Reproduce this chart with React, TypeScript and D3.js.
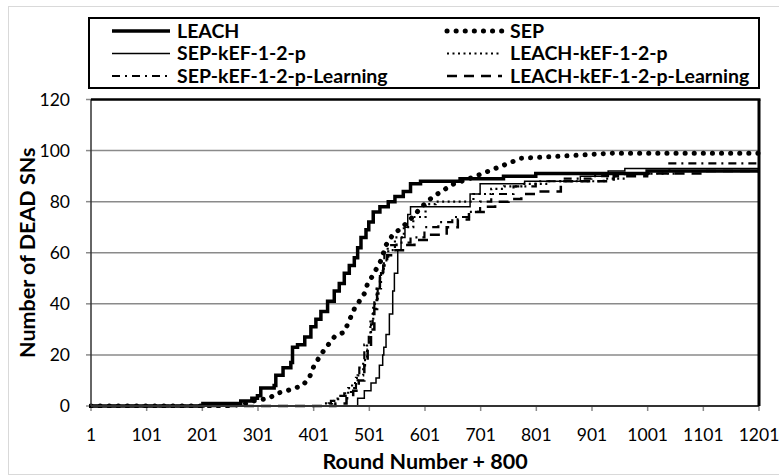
import React from "react";
import * as d3 from "d3";

const xTicks = [1, 101, 201, 301, 401, 501, 601, 701, 801, 901, 1001, 1101, 1201];
const yTicks = [0, 20, 40, 60, 80, 100, 120];

const leach: [number, number][] = [
  [1, 0], [200, 0], [202, 1], [265, 1], [270, 2], [290, 3], [300, 4], [306, 7], [330, 8], [333, 12],
  [346, 15], [360, 17], [363, 23], [372, 24], [385, 27], [396, 31], [405, 34], [414, 37], [426, 41],
  [438, 45], [447, 48], [456, 52], [465, 55], [474, 58], [480, 62], [486, 66], [495, 69], [500, 72],
  [508, 76], [520, 78], [535, 80], [547, 82], [562, 84], [575, 87], [593, 88], [664, 89], [742, 90],
  [800, 91], [1000, 92], [1201, 92],
];

const sep: [number, number][] = [
  [1, 0], [250, 0], [280, 1], [294, 2], [320, 3], [336, 5], [353, 6], [381, 8], [393, 11], [402, 16],
  [420, 22], [438, 27], [456, 29], [462, 32], [474, 38], [492, 44], [498, 48], [507, 51], [522, 57],
  [531, 63], [543, 67], [560, 70], [579, 74], [595, 78], [610, 81], [630, 84], [653, 87], [680, 89],
  [704, 91], [739, 94], [774, 97], [860, 98], [938, 99], [1201, 99],
];

const sepKef: [number, number][] = [
  [1, 0], [470, 0], [480, 3], [492, 6], [504, 9], [513, 11], [519, 16], [525, 20], [527, 23], [531, 28],
  [537, 36], [543, 45], [546, 52], [552, 61], [558, 66], [565, 70], [570, 75], [575, 78], [680, 78],
  [682, 83], [700, 87], [780, 88], [880, 90], [930, 92], [960, 93], [1201, 93],
];

const leachKef: [number, number][] = [
  [1, 0], [415, 0], [418, 1], [434, 2], [445, 4], [463, 7], [470, 9], [480, 12], [490, 18], [497, 25],
  [503, 33], [508, 40], [514, 46], [520, 52], [527, 57], [535, 61], [547, 66], [563, 70], [580, 74],
  [602, 79], [620, 80], [665, 80], [688, 83], [720, 85], [743, 86], [774, 87], [821, 88], [860, 88],
  [922, 89], [960, 91], [1050, 92], [1201, 92],
];

const sepKefLearning: [number, number][] = [
  [1, 0], [423, 0], [428, 1], [432, 2], [444, 4], [456, 5], [468, 7], [477, 11], [483, 15], [492, 24],
  [500, 28], [504, 32], [507, 36], [510, 42], [516, 46], [522, 52], [525, 55], [528, 61], [534, 63],
  [550, 64], [575, 66], [600, 70], [625, 72], [650, 74], [680, 76], [700, 80], [720, 83], [760, 86],
  [800, 88], [850, 89], [900, 90], [950, 91], [1000, 92], [1040, 95], [1201, 95],
];

const leachKefLearning: [number, number][] = [
  [1, 0], [430, 0], [440, 1], [460, 3], [472, 6], [482, 10], [492, 16], [498, 22], [504, 30], [510, 38],
  [515, 44], [520, 50], [526, 55], [533, 59], [545, 61], [564, 63], [582, 65], [612, 67], [636, 67],
  [640, 70], [660, 73], [680, 76], [710, 78], [727, 80], [751, 81], [774, 83], [806, 84], [845, 88],
  [900, 88], [940, 90], [1000, 91], [1100, 92], [1201, 92],
];

type Style = { width: number; dash?: string; cap?: "round" | "butt" | "square"; step: boolean };

const series: { name: string; data: [number, number][]; style: Style; col: number; row: number }[] = [
  { name: "LEACH", data: leach, style: { width: 3.5, step: true }, col: 0, row: 0 },
  { name: "SEP", data: sep, style: { width: 5, dash: "0.1 9", cap: "round", step: false }, col: 1, row: 0 },
  { name: "SEP-kEF-1-2-p", data: sepKef, style: { width: 1.5, step: true }, col: 0, row: 1 },
  { name: "LEACH-kEF-1-2-p", data: leachKef, style: { width: 2.2, dash: "2 3.5", step: true }, col: 1, row: 1 },
  { name: "SEP-kEF-1-2-p-Learning", data: sepKefLearning, style: { width: 2.2, dash: "8 5 2 5", step: true }, col: 0, row: 2 },
  { name: "LEACH-kEF-1-2-p-Learning", data: leachKefLearning, style: { width: 2.5, dash: "10 7", step: true }, col: 1, row: 2 },
];

const W = 779;
const H = 476;
const L = 91, R = 759, T = 99.5, B = 406;
const FONT = "Lato, 'Open Sans', sans-serif";

export default function App() {
  const x = d3.scaleLinear().domain([1, 1201]).range([L, R]);
  const y = d3.scaleLinear().domain([0, 120]).range([B, T]);

  const mkLine = (step: boolean) =>
    d3.line<[number, number]>()
      .x((d) => x(d[0]))
      .y((d) => y(d[1]))
      .curve(step ? d3.curveStepAfter : d3.curveLinear);

  const legendRowY = [31, 53.5, 76];
  const legendSample = [[112, 170], [447, 502]];
  const legendText = [177, 510];

  return (
    <svg width={W} height={H} style={{ position: "absolute", left: 0, top: 0, background: "#fff" }}>
      <rect x={8.5} y={6.5} width={780} height={468} fill="#fff" stroke="#d9d9d9" strokeWidth={1} />
      <defs>
        <clipPath id="plotclip">
          <rect x={L - 2} y={T - 2} width={R - L + 4} height={B - T + 4} />
        </clipPath>
      </defs>

      {/* gridlines */}
      {yTicks.filter((t) => t > 0 && t < 120).map((t) => (
        <line key={"g" + t} x1={L} x2={R} y1={y(t)} y2={y(t)} stroke="#8a8a8a" strokeWidth={1.5} />
      ))}

      {/* y ticks & labels */}
      {yTicks.map((t) => (
        <g key={"y" + t}>
          <line x1={L - 5} x2={L} y1={y(t)} y2={y(t)} stroke="#8a8a8a" strokeWidth={1.5} />
          <text x={70} y={y(t)} dy="0.35em" textAnchor="end" fontFamily={FONT} fontSize={17.5} fill="#000">
            {t}
          </text>
        </g>
      ))}

      {/* x ticks & labels */}
      {xTicks.map((t) => (
        <g key={"x" + t}>
          <line x1={x(t)} x2={x(t)} y1={B} y2={B + 5} stroke="#8a8a8a" strokeWidth={1.5} />
          <text x={x(t)} y={435} dy="0.35em" textAnchor="middle" fontFamily={FONT} fontSize={17.5} fill="#000">
            {t}
          </text>
        </g>
      ))}

      {/* series */}
      <g clipPath="url(#plotclip)">
        {series.map((s) => (
          <path
            key={s.name}
            d={mkLine(s.style.step)(s.data) || ""}
            fill="none"
            stroke="#000"
            strokeWidth={s.style.width}
            strokeDasharray={s.style.dash}
            strokeLinecap={s.style.cap || "butt"}
          />
        ))}
      </g>

      {/* plot border */}
      <line x1={L} x2={L} y1={T} y2={B} stroke="#333" strokeWidth={1.5} />
      <line x1={L} x2={R} y1={B} y2={B} stroke="#333" strokeWidth={2} />
      <line x1={L} x2={R + 1.5} y1={T} y2={T} stroke="#000" strokeWidth={2.5} />
      <line x1={R} x2={R} y1={T} y2={B} stroke="#000" strokeWidth={3} />

      {/* axis titles */}
      <text x={(L + R) / 2} y={461} dy="0.35em" textAnchor="middle" fontFamily={FONT} fontWeight="bold" fontSize={21.5}>
        Round Number + 800
      </text>
      <text
        transform={`translate(27,${(T + B) / 2}) rotate(-90)`}
        dy="0.35em"
        textAnchor="middle"
        fontFamily={FONT}
        fontWeight="bold"
        fontSize={21.5}
      >
        Number of DEAD SNs
      </text>

      {/* legend */}
      <rect x={89} y={18} width={670} height={70} fill="#fff" stroke="#000" strokeWidth={2} />
      {series.map((s) => {
        const yy = legendRowY[s.row];
        const [sx1, sx2] = legendSample[s.col];
        return (
          <g key={"lg" + s.name}>
            <line
              x1={sx1}
              x2={sx2}
              y1={yy}
              y2={yy}
              stroke="#000"
              strokeWidth={s.style.width}
              strokeDasharray={s.style.dash}
              strokeLinecap={s.style.cap || "butt"}
            />
            <text x={legendText[s.col]} y={yy} dy="0.35em" fontFamily={FONT} fontWeight="bold" fontSize={19.5}>
              {s.name}
            </text>
          </g>
        );
      })}
    </svg>
  );
}
